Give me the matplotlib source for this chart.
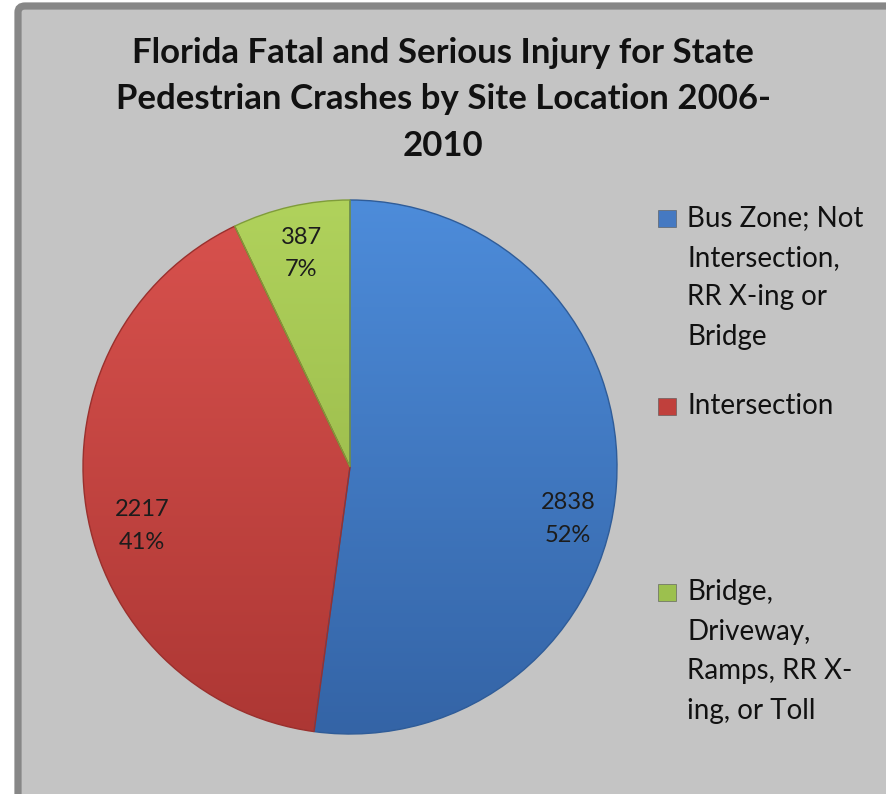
import numpy as np
import matplotlib
matplotlib.use("Agg")
import matplotlib.pyplot as plt
from matplotlib.patches import FancyBboxPatch, Rectangle
from matplotlib.colors import LinearSegmentedColormap

# Dados do gráfico
categorias = ["Bus Zone; Not\nIntersection,\nRR X-ing or\nBridge",
              "Intersection",
              "Bridge,\nDriveway,\nRamps, RR X-\ning, or Toll"]
valores = [2838, 2217, 387]
titulo = "Florida Fatal and Serious Injury for State\nPedestrian Crashes by Site Location 2006-\n2010"

# Cores (topo, base) para o gradiente de cada fatia
cores_topo = ["#4d8cda", "#d9524e", "#b0d25c"]
cores_base = ["#3464a6", "#ad3734", "#8fae42"]
cores_borda = ["#2f5c98", "#9a302d", "#7f9c3a"]
cores_legenda = ["#4579c2", "#c0403c", "#9cc04e"]

W, H = 886, 794
fig = plt.figure(figsize=(W / 100, H / 100), dpi=100)
fig.patch.set_facecolor("white")

# Moldura cinza com borda escura
moldura = FancyBboxPatch((18 / W, -20 / H), (W + 20) / W, (H + 17 - 3) / H,
                         boxstyle="round,pad=0,rounding_size=0.008",
                         transform=fig.transFigure, facecolor="#c4c4c4",
                         edgecolor="#878787", linewidth=5.2, zorder=-1)
fig.patches.append(moldura)

fig.text(0.5, 1 - 37 / H, titulo, ha="center", va="top", fontsize=25,
         fontweight="bold", family="Lato", linespacing=1.55, color="#111111")

# Eixo da pizza
cx, cy, r = 350, 467, 267
ax = fig.add_axes([(cx - r) / W, (H - cy - r) / H, 2 * r / W, 2 * r / H])
ax.set_facecolor("none")
ax.axis("off")
ax.set_zorder(1)

total = sum(valores)
wedges, _ = ax.pie(valores, startangle=90, counterclock=False, radius=1,
                   colors=cores_base)

gradiente = np.linspace(0, 1, 256).reshape(-1, 1)
for w, c1, c2, cb in zip(wedges, cores_topo, cores_base, cores_borda):
    cmap = LinearSegmentedColormap.from_list("g", [c1, c2])
    im = ax.imshow(gradiente, cmap=cmap, extent=[-1, 1, -1, 1],
                   aspect="auto", zorder=2, interpolation="bilinear")
    im.set_clip_path(w)
    w.set_facecolor("none")
    w.set_edgecolor(cb)
    w.set_linewidth(1.0)
    w.set_zorder(3)

# Rótulos de dados (valor e porcentagem)
ajuste_ang = [-9.5, 7, 0]
dist = [0.84, 0.81, 0.82]
for w, v, da, d in zip(wedges, valores, ajuste_ang, dist):
    ang = np.deg2rad((w.theta1 + w.theta2) / 2 + da)
    ax.text(d * np.cos(ang), d * np.sin(ang),
            f"{v}\n{round(100 * v / total)}%", ha="center", va="center",
            fontsize=17, family="Lato", linespacing=1.7, color="#1c1c1c",
            zorder=5)

ax.set_xlim(-1, 1)
ax.set_ylim(-1, 1)

# Legenda manual
leg_y = [218, 406, 592]
for lab, cor, y in zip(categorias, cores_legenda, leg_y):
    fig.patches.append(Rectangle((658 / W, 1 - (y + 9) / H), 18 / W, 17 / H,
                                 transform=fig.transFigure, facecolor=cor,
                                 edgecolor="#555555", linewidth=0.4))
    fig.text(687 / W, 1 - (y - 13) / H, lab, ha="left", va="top",
             fontsize=20, family="Lato", linespacing=1.65, color="#111111")

fig.savefig("out.png", dpi=100, facecolor=fig.get_facecolor())
